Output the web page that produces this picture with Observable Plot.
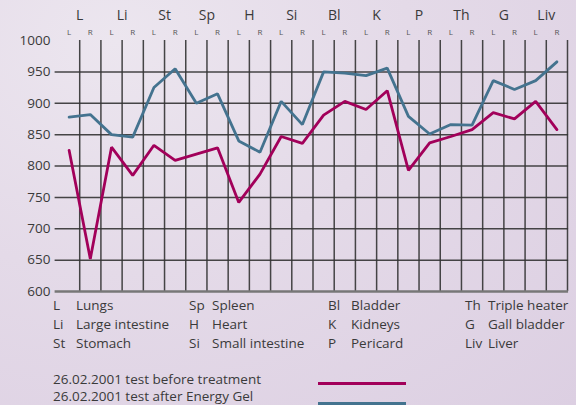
<!DOCTYPE html>
<html>
<head>
<meta charset="utf-8">
<script src="https://cdn.jsdelivr.net/npm/d3@7"></script>
<script src="https://cdn.jsdelivr.net/npm/@observablehq/plot@0.6"></script>
<style>
  html, body { margin: 0; padding: 0; }
  body { width: 576px; height: 405px; overflow: hidden; font-family: "Open Sans", sans-serif; color: #3a3a3a;
    background: radial-gradient(ellipse at 20% 10%, #ece6ef 0%, #e4dae8 45%, #dccfe2 100%); }
  #wrap { position: relative; width: 576px; height: 405px; }
  #chart { position: absolute; left: 0; top: 0; }
  .abbr, .name { position: absolute; font-size: 13.5px; line-height: 19px; white-space: nowrap; }
  .leg { position: absolute; left: 53px; font-size: 13.5px; line-height: 17px; height: 17px; white-space: nowrap; }
  .swatch { position: absolute; left: 318px; width: 88px; height: 3px; }
</style>
</head>
<body>
<div id="wrap">
  <div id="chart"></div>
  <div id="names"></div>
  <div id="legend"></div>
</div>
<script>
const meridians = ["L","Li","St","Sp","H","Si","Bl","K","P","Th","G","Liv"];
const sides = ["L","R"];
const before = [825,652,830,785,833,809,819,829,742,787,847,836,881,903,890,920,793,837,847,858,885,875,903,858];
const after  = [878,882,850,846,925,955,900,915,840,822,903,866,950,948,944,956,879,851,866,865,936,922,936,966];
const yTicks = [600,650,700,750,800,850,900,950,1000];
const gridY = [650,700,750,800,850,900,950];
const fullNames = [
  ["L","Lungs"],["Li","Large intestine"],["St","Stomach"],
  ["Sp","Spleen"],["H","Heart"],["Si","Small intestine"],
  ["Bl","Bladder"],["K","Kidneys"],["P","Pericard"],
  ["Th","Triple heater"],["G","Gall bladder"],["Liv","Liver"]
];
const seriesLabels = ["26.02.2001 test before treatment","26.02.2001 test after Energy Gel"];
const seriesColors = ["#a2005a","#44738f"];

const idx = d3.range(before.length);
const subLabels = idx.map(i => sides[i % 2]);
const groupPos = meridians.map((m, k) => ({m, x: 2 * k + 0.5}));
const vGrid = idx.map(i => i + 0.5);

const plot = Plot.plot({
  width: 576, height: 302,
  marginTop: 40, marginBottom: 11, marginLeft: 58, marginRight: 9,
  style: {background: "transparent", fontFamily: "Open Sans, sans-serif", overflow: "visible"},
  x: {type: "linear", domain: [-0.5, 23.5], axis: null},
  y: {domain: [600, 1000], axis: null},
  marks: [
    Plot.ruleY(gridY, {y: d => d, x1: -0.66, x2: 23.55, stroke: "#333", strokeWidth: 1.5, strokeOpacity: 0.9}),
    Plot.ruleX(vGrid, {x: d => d, y1: 600, y2: 1000, stroke: "#333", strokeWidth: 1.5, strokeOpacity: 0.9}),
    Plot.ruleY([600], {y: d => d, x1: -0.66, x2: 23.55, stroke: "#777", strokeWidth: 2.6}),
    Plot.text(yTicks, {x: -0.5, y: d => d, text: d => String(d), textAnchor: "end", dx: -8, fontSize: 13.5, fill: "#3a3a3a"}),
    Plot.text(groupPos, {x: "x", text: "m", frameAnchor: "top", dy: -25, lineAnchor: "middle", fontSize: 14, fill: "#3a3a3a"}),
    Plot.text(idx, {x: d => d, text: d => subLabels[d], frameAnchor: "top", dy: -8, lineAnchor: "middle", fontSize: 8, fill: "#555"}),
    Plot.line(idx, {x: d => d, y: d => after[d], stroke: seriesColors[1], strokeWidth: 2.8, strokeLinejoin: "miter"}),
    Plot.line(idx, {x: d => d, y: d => before[d], stroke: seriesColors[0], strokeWidth: 2.8, strokeLinejoin: "miter"})
  ]
});
document.getElementById("chart").appendChild(plot);

// meridian name table
const colAbbrX = [53, 189, 328, 465];
const colNameX = [76, 212, 351, 488];
const names = document.getElementById("names");
fullNames.forEach(([a, n], k) => {
  const col = Math.floor(k / 3), row = k % 3;
  const top = 296 + row * 19;
  const s1 = document.createElement("div");
  s1.className = "abbr"; s1.textContent = a;
  s1.style.left = colAbbrX[col] + "px"; s1.style.top = top + "px";
  const s2 = document.createElement("div");
  s2.className = "name"; s2.textContent = n;
  s2.style.left = colNameX[col] + "px"; s2.style.top = top + "px";
  names.appendChild(s1); names.appendChild(s2);
});

// series legend
const legend = document.getElementById("legend");
seriesLabels.forEach((t, k) => {
  const d = document.createElement("div");
  d.className = "leg"; d.textContent = t;
  d.style.top = (371 + k * 17) + "px";
  legend.appendChild(d);
  const s = document.createElement("div");
  s.className = "swatch"; s.style.background = seriesColors[k];
  s.style.top = (382 + k * 19.5) + "px";
  legend.appendChild(s);
});
</script>
</body>
</html>
